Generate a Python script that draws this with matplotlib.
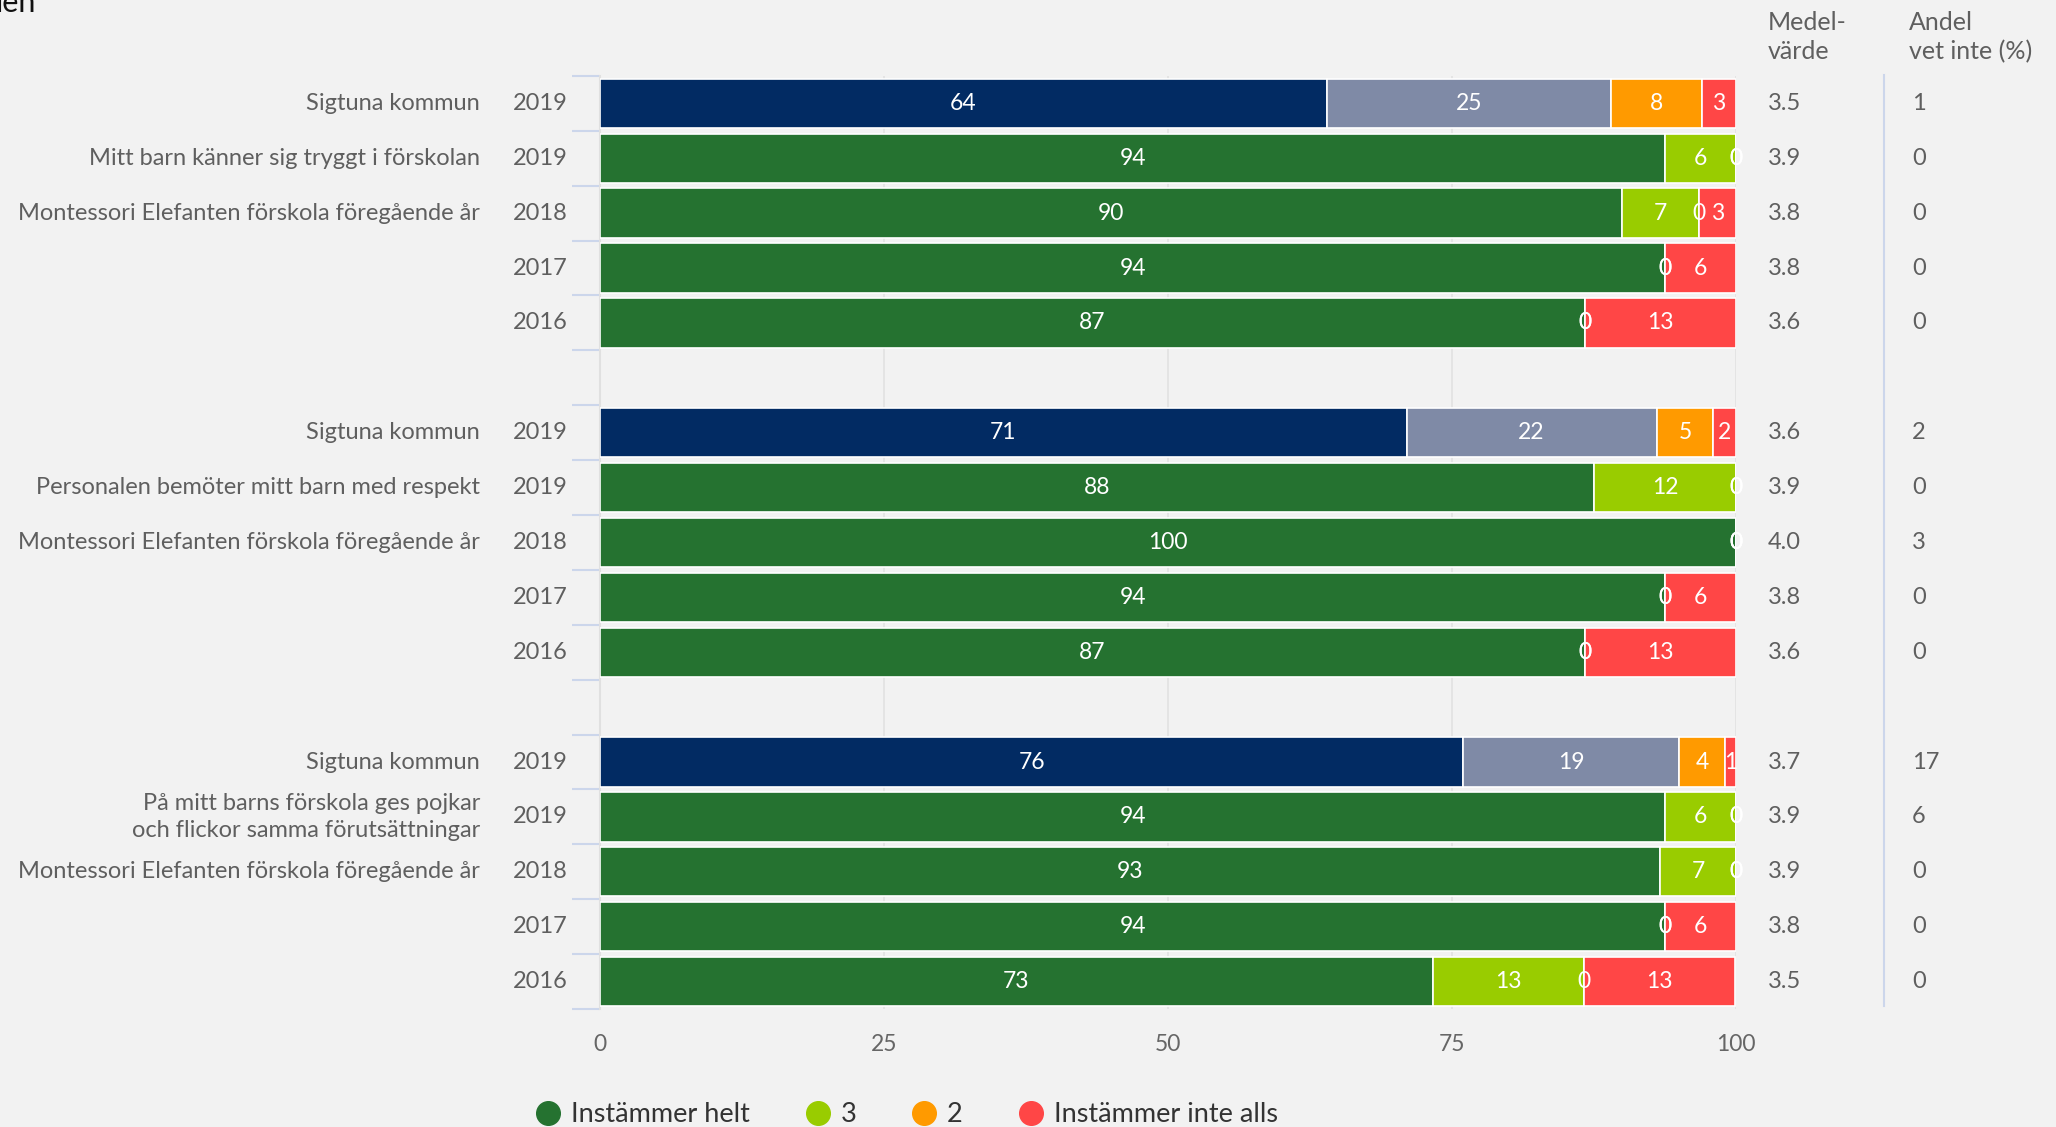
import matplotlib
matplotlib.use('Agg')
import matplotlib.pyplot as plt
from matplotlib.lines import Line2D
from matplotlib.transforms import blended_transform_factory

plt.rcParams['font.family'] = ['Lato', 'DejaVu Sans']

# ---- data ----
row_names = [
    'Sigtuna kommun', 'Mitt barn känner sig tryggt i förskolan',
    'Montessori Elefanten förskola föregående år', '', '',
    'Sigtuna kommun', 'Personalen bemöter mitt barn med respekt',
    'Montessori Elefanten förskola föregående år', '', '',
    'Sigtuna kommun', 'På mitt barns förskola ges pojkar\noch flickor samma förutsättningar',
    'Montessori Elefanten förskola föregående år', '', '',
]
row_years = ['2019', '2019', '2018', '2017', '2016'] * 3

helt = [64, 93.75, 90, 93.75, 86.7,
        71, 87.5, 100, 93.75, 86.7,
        76, 93.75, 93.3, 93.75, 73.3]
tre = [25, 6.25, 6.7, 0, 0,
       22, 12.5, 0, 0, 0,
       19, 6.25, 6.7, 0, 13.3]
tva = [8, 0, 0, 0, 0,
       5, 0, 0, 0, 0,
       4, 0, 0, 0, 0]
inte = [3, 0, 3.3, 6.25, 13.3,
        2, 0, 0, 6.25, 13.3,
        1, 0, 0, 6.25, 13.3]

medel = ['3.5', '3.9', '3.8', '3.8', '3.6',
         '3.6', '3.9', '4.0', '3.8', '3.6',
         '3.7', '3.9', '3.9', '3.8', '3.5']
vet_inte = ['1', '0', '0', '0', '0',
            '2', '0', '3', '0', '0',
            '17', '6', '0', '0', '0']

legend_labels = ['Instämmer helt', '3', '2', 'Instämmer inte alls']
colors_skola = ['#257230', '#99cc00', '#ff9a00', '#ff4646']
colors_kommun = ['#022b63', '#7f8aa6', '#ff9a00', '#ff4646']

# ---- figure ----
bg = '#f2f2f2'
txt = '#5f5f5f'
fig = plt.figure(figsize=(20.56, 11.27), dpi=100, facecolor=bg)
ax = fig.add_axes([0.2918, 0.1047, 0.5526, 0.8279], facecolor=bg)

# one empty slot between each question block
ypos = [i + i // 5 for i in range(len(helt))]

series = [helt, tre, tva, inte]
for i, y in enumerate(ypos):
    cols = colors_kommun if row_names[i] == 'Sigtuna kommun' else colors_skola
    left = 0
    for s, vals in enumerate(series):
        v = vals[i]
        ax.barh(y, v, left=left, height=0.9, color=cols[s], edgecolor='white',
                linewidth=1.2, zorder=3)
        ax.text(left + v / 2, y, f'{v:.0f}', ha='center', va='center',
                color='white', fontsize=16.5, zorder=4)
        left += v

ax.set_xlim(0, 100)
ax.set_ylim(16.5, -0.5)
ax.set_xticks([0, 25, 50, 75, 100])
ax.tick_params(axis='x', length=0, labelsize=16.5, labelcolor='#666666', pad=18)
ax.grid(axis='x', color='#e2e2e2', linewidth=1.2, zorder=0)

ax.set_yticks([b - 0.5 for b in range(18)])
ax.set_yticklabels([])
ax.tick_params(axis='y', length=20, width=1.5, color='#ccd6eb')
for side in ['top', 'right', 'bottom']:
    ax.spines[side].set_visible(False)
ax.spines['left'].set_color('#e0e0e0')
ax.spines['left'].set_linewidth(1.5)

# row labels, years and the two value columns
tr = blended_transform_factory(fig.transFigure, ax.transData)
for i, y in enumerate(ypos):
    if row_names[i]:
        ax.text(480 / 2056, y, row_names[i], transform=tr, ha='right', va='center',
                fontsize=17, color=txt, linespacing=1.4)
    ax.text(568 / 2056, y, row_years[i], transform=tr, ha='right', va='center',
            fontsize=17, color=txt)
    ax.text(1768 / 2056, y, medel[i], transform=tr, ha='left', va='center',
            fontsize=17, color=txt)
    ax.text(1912 / 2056, y, vet_inte[i], transform=tr, ha='left', va='center',
            fontsize=17, color=txt)

fig.text(1768 / 2056, 1 - 37 / 1127, 'Medel-\nvärde', ha='left', va='center',
         fontsize=18, color=txt, linespacing=1.3)
fig.text(1909 / 2056, 1 - 37 / 1127, 'Andel\nvet inte (%)', ha='left', va='center',
         fontsize=18, color=txt, linespacing=1.3)
fig.add_artist(Line2D([1884 / 2056, 1884 / 2056], [1 - 75 / 1127, 1 - 1006 / 1127],
                      color='#ccd6eb', linewidth=1.5))

# cut-off title at the very top
fig.text(-0.002, 1 - 12 / 1127, 'len', ha='left', va='baseline',
         fontsize=22, color='#111111')

handles = [Line2D([], [], marker='o', linestyle='', markersize=17,
                  markerfacecolor=c, markeredgecolor=c) for c in colors_skola]
fig.legend(handles, legend_labels, loc='center', bbox_to_anchor=(906 / 2056, 1 - 1115 / 1127),
           ncol=4, frameon=False, fontsize=19.5, labelcolor='#333333',
           handletextpad=0.35, columnspacing=2.0, handlelength=1.0)

fig.savefig('out.png', dpi=100, facecolor=bg)
